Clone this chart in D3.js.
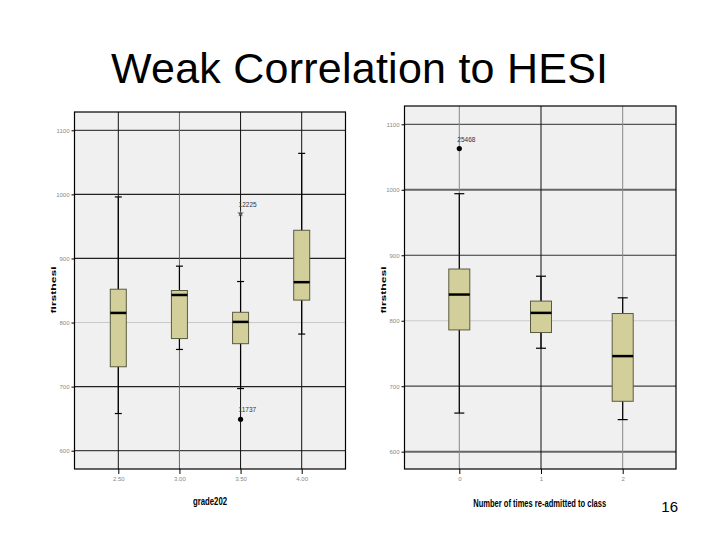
<!DOCTYPE html>
<html lang="en">
<head>
<meta charset="UTF-8">
<title>Weak Correlation to HESI</title>
<script src="https://cdn.jsdelivr.net/npm/d3@7"></script>
<style>
    body { margin: 0; background: #fff; }
    svg { display: block; font-family: Arial, "Liberation Sans", sans-serif; }
    .tick text { fill: #888; font-size: 6px; }
    .tick line { stroke: #000; }
    .box { fill: #d3cf9b; stroke: #5a5a40; stroke-width: 1; }
    .median { stroke: #000; stroke-width: 2.5; }
    .whisker, .cap { stroke: #000; stroke-width: 1.2; }
    .lab-narrow { font-family: "Liberation Sans Narrow", "Arial Narrow", Arial, sans-serif; font-weight: bold; }
</style>
</head>
<body>
<script>
// y ticks shared by both panels
const yTicks = [600, 700, 800, 900, 1000, 1100];

// panel 1: firsthesi by grade202
const gradeCats = ["2.50", "3.00", "3.50", "4.00"];
const gradeMin = [658, 758, 697, 782];
const gradeQ1 = [731, 775, 767, 835];
const gradeMed = [815, 843, 801, 863];
const gradeQ3 = [852, 850, 816, 944];
const gradeMax = [996, 888, 864, 1064];
const gradeOutCats = ["3.50", "3.50"];
const gradeOutValues = [970, 649];
const gradeOutLabels = ["12225", "11737"];
const gradeOutShapes = ["star", "dot"];

// panel 2: firsthesi by number of times re-admitted
const readmitCats = ["0", "1", "2"];
const readmitMin = [659, 758, 649];
const readmitQ1 = [786, 782, 677];
const readmitMed = [840, 812, 746];
const readmitQ3 = [879, 830, 811];
const readmitMax = [994, 868, 835];
const readmitOutCats = ["0"];
const readmitOutValues = [1063];
const readmitOutLabels = ["25468"];
const readmitOutShapes = ["dot"];

const W = 720, H = 540;
const svg = d3.select("body").append("svg").attr("width", W).attr("height", H);

svg.append("text")
    .attr("x", 359.5).attr("y", 82.7)
    .attr("text-anchor", "middle")
    .attr("font-size", 43)
    .attr("textLength", 497)
    .text("Weak Correlation to HESI");

svg.append("text")
    .attr("x", 678).attr("y", 512)
    .attr("text-anchor", "end")
    .attr("font-size", 15)
    .text("16");

function panel(cfg) {
    const g = svg.append("g");
    const x = d3.scalePoint(cfg.cats, cfg.xRange);
    const y = d3.scaleLinear([600, 1100], cfg.yRange);
    const [fx0, fx1, fy0, fy1] = cfg.frame;

    g.append("rect")
        .attr("x", fx0).attr("y", fy0)
        .attr("width", fx1 - fx0).attr("height", fy1 - fy0)
        .attr("fill", "#f0f0f0");

    // horizontal grid (colours listed in yTicks order)
    g.selectAll(".hgrid").data(yTicks).join("line")
        .attr("x1", fx0).attr("x2", fx1)
        .attr("y1", d => y(d)).attr("y2", d => y(d))
        .attr("stroke", (d, i) => cfg.hColors[i])
        .attr("stroke-width", (d, i) => cfg.hWidths[i]);

    // vertical lines through each category
    g.selectAll(".vgrid").data(cfg.cats).join("line")
        .attr("x1", d => x(d)).attr("x2", d => x(d))
        .attr("y1", fy0).attr("y2", fy1)
        .attr("stroke", (d, i) => cfg.vColors[i]);

    // axes
    const yAxis = g.append("g")
        .attr("transform", `translate(${fx0},0)`)
        .call(d3.axisLeft(y).tickValues(yTicks).tickFormat(d3.format("d")).tickSize(3).tickPadding(2));
    yAxis.select(".domain").remove();

    const xAxis = g.append("g")
        .attr("transform", `translate(0,${fy1})`)
        .call(d3.axisBottom(x).tickSize(5).tickPadding(3));
    xAxis.select(".domain").remove();
    xAxis.selectAll("text").attr("font-size", 6.5).attr("fill", "#555");

    g.append("rect")
        .attr("x", fx0).attr("y", fy0)
        .attr("width", fx1 - fx0).attr("height", fy1 - fy0)
        .attr("fill", "none").attr("stroke", "#000").attr("stroke-width", 1.2);

    const hw = cfg.boxW / 2, cw = cfg.capW / 2;
    const boxes = g.selectAll(".bx").data(cfg.cats).join("g");
    boxes.append("line").attr("class", "whisker")
        .attr("x1", d => x(d)).attr("x2", d => x(d))
        .attr("y1", (d, i) => y(cfg.max[i])).attr("y2", (d, i) => y(cfg.min[i]));
    boxes.append("line").attr("class", "cap")
        .attr("x1", d => x(d) - cw).attr("x2", d => x(d) + cw)
        .attr("y1", (d, i) => y(cfg.max[i])).attr("y2", (d, i) => y(cfg.max[i]));
    boxes.append("line").attr("class", "cap")
        .attr("x1", d => x(d) - cw).attr("x2", d => x(d) + cw)
        .attr("y1", (d, i) => y(cfg.min[i])).attr("y2", (d, i) => y(cfg.min[i]));
    boxes.append("rect").attr("class", "box")
        .attr("x", d => x(d) - hw).attr("width", cfg.boxW)
        .attr("y", (d, i) => y(cfg.q3[i]))
        .attr("height", (d, i) => y(cfg.q1[i]) - y(cfg.q3[i]));
    boxes.append("line").attr("class", "median")
        .attr("x1", d => x(d) - hw).attr("x2", d => x(d) + hw)
        .attr("y1", (d, i) => y(cfg.med[i])).attr("y2", (d, i) => y(cfg.med[i]));

    // outliers
    cfg.outCats.forEach((c, i) => {
        const px = x(c), py = y(cfg.outValues[i]);
        if (cfg.outShapes[i] === "dot") {
            g.append("circle").attr("cx", px).attr("cy", py).attr("r", 2.6).attr("fill", "#000");
        } else {
            g.append("path")
                .attr("d", d3.symbol(d3.symbolStar, 14)())
                .attr("transform", `translate(${px},${py})`)
                .attr("fill", "#555");
        }
        g.append("text")
            .attr("x", px - 2).attr("y", py - 7)
            .attr("font-size", 6.5).attr("fill", "#333")
            .text(cfg.outLabels[i]);
    });

    // axis titles
    svg.append("text").attr("class", "lab-narrow")
        .attr("transform", `translate(${cfg.yLab[0]},${cfg.yLab[1]}) rotate(-90)`)
        .attr("text-anchor", "middle")
        .attr("font-size", 8)
        .attr("textLength", 47).attr("lengthAdjust", "spacingAndGlyphs")
        .text("firsthesi");
    svg.append("text").attr("class", "lab-narrow")
        .attr("x", cfg.xLab[0]).attr("y", cfg.xLab[1])
        .attr("text-anchor", "middle")
        .attr("font-size", 10)
        .attr("textLength", cfg.xLab[2]).attr("lengthAdjust", "spacingAndGlyphs")
        .text(cfg.xTitle);
}

panel({
    cats: gradeCats, min: gradeMin, q1: gradeQ1, med: gradeMed, q3: gradeQ3, max: gradeMax,
    outCats: gradeOutCats, outValues: gradeOutValues, outLabels: gradeOutLabels, outShapes: gradeOutShapes,
    xRange: [118.3, 301.7], yRange: [450.7, 130.3],
    frame: [74.5, 345.5, 112, 469],
    hColors: ["#444", "#222", "#c8c8c8", "#222", "#222", "#444"],
    hWidths: [1.2, 1.2, 1, 1.2, 1.2, 1.2],
    vColors: ["#111", "#666", "#111", "#111"],
    boxW: 16, capW: 7,
    yLab: [55.5, 290],
    xLab: [210, 505, 34],
    xTitle: "grade202"
});

panel({
    cats: readmitCats, min: readmitMin, q1: readmitQ1, med: readmitMed, q3: readmitQ3, max: readmitMax,
    outCats: readmitOutCats, outValues: readmitOutValues, outLabels: readmitOutLabels, outShapes: readmitOutShapes,
    xRange: [459.3, 622.7], yRange: [451.7, 124.3],
    frame: [404.5, 676, 106, 469],
    hColors: ["#666", "#444", "#cccccc", "#333", "#666", "#555"],
    hWidths: [2, 1.2, 1, 1.2, 2, 1.2],
    vColors: ["#888", "#111", "#888"],
    boxW: 21, capW: 10,
    yLab: [386, 290],
    xLab: [539.7, 507, 133],
    xTitle: "Number of times re-admitted to class"
});
</script>
</body>
</html>
